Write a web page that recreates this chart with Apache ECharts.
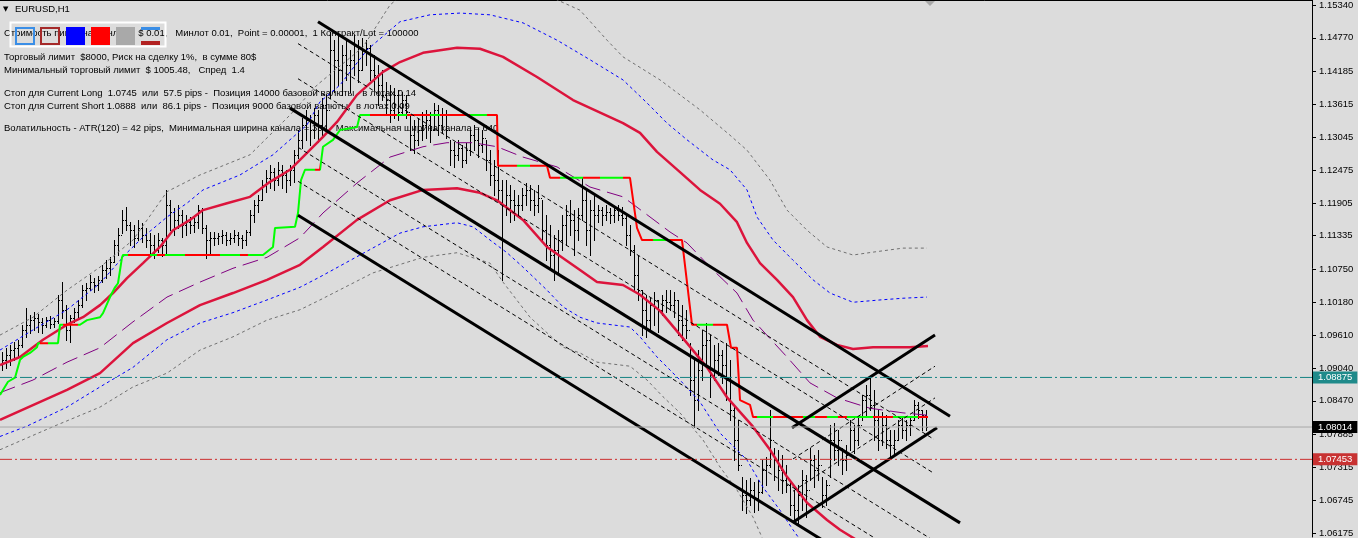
<!DOCTYPE html>
<html><head><meta charset="utf-8">
<script src="https://cdn.jsdelivr.net/npm/echarts@6/dist/echarts.min.js"></script>
<style>html,body{margin:0;padding:0;background:#dcdcdc;}#c{width:1358px;height:538px;}</style>
</head><body><div id="c"></div><script>
// ---------- DATA ----------
const yTicks = [1.15340,1.14770,1.14185,1.13615,1.13045,1.12475,1.11905,1.11335,1.10750,1.10180,1.09610,1.09040,1.08470,1.07885,1.07315,1.06745,1.06175];

const barHigh = [
1.0932,1.0939,1.0944,1.0949,1.0953,1.0979,1.1008,1.0996,1.1001,1.0998,
1.0991,1.0992,1.0994,1.0991,1.1031,1.1053,1.1013,1.0996,1.1008,1.1022,
1.1048,1.1051,1.1065,1.1060,1.1063,1.1083,1.1091,1.1096,1.1126,1.1147,
1.1178,1.1183,1.1157,1.1152,1.1161,1.1156,1.1147,1.1138,1.1135,1.1138,
1.1130,1.1213,1.1195,1.1181,1.1187,1.1178,1.1169,1.1166,1.1164,1.1187,
1.1181,1.1152,1.1140,1.1140,1.1138,1.1143,1.1140,1.1138,1.1143,1.1140,
1.1135,1.1143,1.1178,1.1195,1.1204,1.1230,1.1248,1.1256,1.1251,1.1262,
1.1256,1.1248,1.1256,1.1282,1.1317,1.1338,1.1352,1.1343,1.1355,1.1352,
1.1373,1.1378,1.1487,1.1473,1.1482,1.1465,1.1477,1.1456,1.1482,1.1473,
1.1477,1.1473,1.1465,1.1447,1.1430,1.1421,1.1401,1.1395,1.1390,1.1386,
1.1383,1.1378,1.1343,1.1334,1.1338,1.1348,1.1352,1.1348,1.1364,1.1360,
1.1355,1.1352,1.1300,1.1296,1.1300,1.1291,1.1294,1.1317,1.1326,1.1320,
1.1317,1.1300,1.1282,1.1265,1.1282,1.1230,1.1230,1.1222,1.1213,1.1204,
1.1216,1.1225,1.1222,1.1213,1.1222,1.1195,1.1169,1.1152,1.1135,1.1143,
1.1169,1.1187,1.1195,1.1178,1.1181,1.1234,1.1213,1.1195,1.1204,1.1187,
1.1183,1.1187,1.1181,1.1185,1.1187,1.1183,1.1169,1.1152,1.1117,1.1100,
1.1039,1.1031,1.1025,1.1036,1.1022,1.1031,1.1039,1.1039,1.1036,1.1022,
1.1013,1.1005,1.0947,1.0918,1.0935,1.0970,1.0982,1.0961,1.0944,1.0947,
1.0935,1.0947,1.0918,1.0836,1.0814,1.0715,1.0710,1.0713,1.0706,1.0710,
1.0744,1.0749,1.0831,1.0765,1.0762,1.0753,1.0736,1.0710,1.0692,1.0701,
1.0727,1.0718,1.0765,1.0753,1.0762,1.0715,1.0710,1.0805,1.0808,1.0796,
1.0765,1.0770,1.0814,1.0805,1.0817,1.0857,1.0874,1.0887,1.0866,1.0831,
1.0827,1.0822,1.0796,1.0796,1.0814,1.0819,1.0814,1.0817,1.0848,1.0845,1.0831,1.0831];

const barLow = [
1.0900,1.0904,1.0909,1.0918,1.0921,1.0940,1.0958,1.0965,1.0970,1.0966,
1.0965,1.0975,1.0973,1.0975,1.0982,1.0991,1.0953,1.0949,1.0984,1.0991,
1.1010,1.1022,1.1039,1.1036,1.1039,1.1053,1.1060,1.1065,1.1088,1.1100,
1.1138,1.1143,1.1117,1.1114,1.1126,1.1123,1.1114,1.1100,1.1095,1.1105,
1.1098,1.1104,1.1143,1.1135,1.1147,1.1131,1.1135,1.1138,1.1140,1.1147,
1.1138,1.1095,1.1100,1.1117,1.1119,1.1121,1.1117,1.1119,1.1123,1.1117,
1.1112,1.1117,1.1135,1.1157,1.1175,1.1195,1.1210,1.1216,1.1213,1.1222,
1.1216,1.1210,1.1222,1.1227,1.1268,1.1286,1.1300,1.1291,1.1303,1.1296,
1.1308,1.1317,1.1373,1.1383,1.1395,1.1378,1.1404,1.1383,1.1413,1.1401,
1.1421,1.1430,1.1404,1.1386,1.1360,1.1369,1.1343,1.1331,1.1338,1.1334,
1.1343,1.1338,1.1282,1.1277,1.1291,1.1300,1.1303,1.1296,1.1317,1.1308,
1.1312,1.1303,1.1256,1.1253,1.1265,1.1253,1.1260,1.1274,1.1282,1.1270,
1.1279,1.1248,1.1222,1.1204,1.1195,1.1057,1.1169,1.1157,1.1161,1.1169,
1.1178,1.1187,1.1178,1.1169,1.1175,1.1126,1.1091,1.1074,1.1057,1.1065,
1.1109,1.1117,1.1135,1.1100,1.1126,1.1161,1.1117,1.1100,1.1126,1.1157,
1.1152,1.1161,1.1155,1.1157,1.1161,1.1152,1.1117,1.1100,1.1039,1.1022,
1.0961,1.0958,1.0970,1.0979,1.0966,1.0996,1.1001,1.1005,1.0992,1.0961,
1.0953,1.0956,1.0857,1.0802,1.0831,1.0883,1.0909,1.0854,1.0883,1.0892,
1.0878,1.0848,1.0814,1.0744,1.0727,1.0657,1.0652,1.0666,1.0654,1.0657,
1.0687,1.0701,1.0732,1.0710,1.0692,1.0687,1.0689,1.0649,1.0640,1.0635,
1.0657,1.0645,1.0710,1.0697,1.0710,1.0663,1.0666,1.0715,1.0744,1.0736,
1.0720,1.0727,1.0762,1.0756,1.0770,1.0814,1.0822,1.0831,1.0779,1.0762,
1.0770,1.0765,1.0749,1.0753,1.0779,1.0782,1.0779,1.0788,1.0814,1.0817,1.0796,1.0796];

const barClose = [
1.0918,1.0927,1.0935,1.0939,1.0944,1.0970,1.0979,1.0987,1.0991,1.0984,
1.0979,1.0987,1.0980,1.0985,1.1022,1.1005,1.0970,1.0991,1.1001,1.1013,
1.1039,1.1043,1.1053,1.1048,1.1057,1.1074,1.1077,1.1088,1.1117,1.1135,
1.1161,1.1152,1.1143,1.1130,1.1147,1.1135,1.1126,1.1117,1.1109,1.1126,
1.1117,1.1187,1.1175,1.1161,1.1169,1.1152,1.1157,1.1152,1.1157,1.1178,
1.1147,1.1126,1.1130,1.1130,1.1133,1.1135,1.1126,1.1130,1.1135,1.1130,
1.1126,1.1140,1.1169,1.1187,1.1195,1.1222,1.1234,1.1244,1.1230,1.1248,
1.1239,1.1230,1.1248,1.1274,1.1300,1.1326,1.1334,1.1317,1.1343,1.1326,
1.1360,1.1352,1.1456,1.1439,1.1421,1.1447,1.1430,1.1439,1.1465,1.1421,
1.1456,1.1459,1.1421,1.1413,1.1395,1.1378,1.1369,1.1352,1.1378,1.1348,
1.1369,1.1348,1.1308,1.1300,1.1317,1.1326,1.1334,1.1317,1.1352,1.1326,
1.1343,1.1317,1.1282,1.1274,1.1286,1.1265,1.1282,1.1308,1.1300,1.1291,
1.1303,1.1265,1.1239,1.1230,1.1213,1.1187,1.1204,1.1195,1.1187,1.1187,
1.1204,1.1213,1.1195,1.1187,1.1199,1.1143,1.1117,1.1100,1.1109,1.1126,
1.1152,1.1169,1.1161,1.1143,1.1169,1.1195,1.1143,1.1178,1.1169,1.1178,
1.1169,1.1175,1.1169,1.1178,1.1169,1.1164,1.1135,1.1109,1.1065,1.1039,
1.1005,1.0987,1.1013,1.1022,1.1005,1.1022,1.1019,1.1013,1.1022,1.0987,
1.0979,1.0970,1.0883,1.0848,1.0900,1.0944,1.0953,1.0892,1.0918,1.0927,
1.0909,1.0883,1.0831,1.0779,1.0736,1.0684,1.0675,1.0692,1.0678,1.0689,
1.0727,1.0736,1.0779,1.0744,1.0727,1.0710,1.0701,1.0666,1.0657,1.0684,
1.0710,1.0692,1.0744,1.0727,1.0736,1.0684,1.0701,1.0779,1.0762,1.0779,
1.0744,1.0753,1.0796,1.0779,1.0805,1.0848,1.0857,1.0840,1.0814,1.0779,
1.0805,1.0779,1.0770,1.0779,1.0805,1.0796,1.0805,1.0814,1.0840,1.0831,1.0822,1.08014];

// indicator lines: [bar index, price]
const stopLine = [[-0.5,1.0857],[1.5,1.0880],[3.25,1.0887],[4.5,1.0918],[5.25,1.0923],[7,1.0930],[8.75,1.0940],[9,1.0947],[14,1.0947],[14.5,1.0979],[19.5,1.0979],[21.25,1.0987],[24.5,1.0992],[25.25,1.0999],[27,1.1027],[28.25,1.1044],[29,1.1051],[30,1.1096],[30.25,1.1100],[65.25,1.1100],[67.75,1.1114],[68.25,1.1147],[73.25,1.1149],[74,1.1173],[74.75,1.1230],[75.75,1.1248],[79.5,1.1248],[80.25,1.1288],[82.75,1.1300],[84.5,1.1317],[88.75,1.1322],[89.5,1.1343],[123.75,1.1343],[124,1.1255],[136.25,1.1255],[137,1.1234],[157,1.1234],[158.75,1.1147],[160,1.1126],[170,1.1126],[172.5,1.0979],[181.25,1.0979],[182.25,1.0939],[183.75,1.0939],[184.5,1.0848],[187,1.0840],[187.75,1.0819],[231.5,1.0819]];
const stopShortRanges = [[9.5,11.5],[15.25,19],[31.5,37],[38.75,40.75],[45.75,54.5],[59.5,61.5],[78.25,79.5],[92,98.75],[101.25,107],[109.5,117],[121.25,128.75],[132,139.5],[145.25,149.5],[155.25,162.75],[167,173.75],[177.75,188.75],[192.75,200.25],[203.25,206.25],[209,211.25],[217.75,222.75],[229,231.5]];

const maUpper = [[-0.5,1.0909],[4.5,1.0923],[10.25,1.0953],[16.25,1.0979],[20.25,1.0992],[24.5,1.1013],[27.75,1.1034],[31.25,1.1060],[35.25,1.1086],[39.5,1.1114],[42.75,1.1143],[47,1.1161],[50.25,1.1178],[56.25,1.1190],[62,1.1201],[67,1.1227],[72,1.1248],[80.25,1.1305],[83.75,1.1331],[88.75,1.1378],[95.25,1.1418],[99.5,1.1435],[105.25,1.1451],[113.75,1.1460],[119.5,1.1458],[125.25,1.1444],[133.75,1.1409],[142.75,1.1369],[155.25,1.1329],[159.5,1.1312],[163.75,1.1279],[169.5,1.1244],[174.5,1.1213],[179.5,1.1189],[183.75,1.1157],[186.25,1.1121],[189.5,1.1086],[193.75,1.1057],[197.75,1.1027],[201.25,1.0987],[204.5,1.0958],[208.75,1.0944],[212.75,1.0937],[217.75,1.0940],[227,1.0940],[231.5,1.0942]];
const maLower = [[-0.5,1.0814],[16.25,1.0866],[24.5,1.0895],[32.75,1.0947],[41.25,1.0982],[49.5,1.1013],[57.75,1.1034],[66.25,1.1057],[74.5,1.1083],[80.25,1.1114],[88.75,1.1161],[97,1.1195],[105.25,1.1213],[113.75,1.1216],[119.5,1.1208],[123.75,1.1195],[130.25,1.1161],[136.25,1.1114],[144.5,1.1074],[148.75,1.1053],[155.25,1.1048],[159.5,1.1031],[164.5,1.1003],[171.25,1.0947],[176.25,1.0905],[181.25,1.0853],[187.75,1.0802],[192,1.0762],[196.25,1.0715],[201.25,1.0670],[206.25,1.0640],[209.5,1.0623],[213.5,1.0606]];
const midLine = [[-0.5,1.0861],[7.75,1.0883],[16.25,1.0914],[24.5,1.0939],[32.75,1.0984],[41.25,1.1027],[49.5,1.1053],[57.75,1.1077],[66.25,1.1096],[74.5,1.1130],[80.25,1.1173],[88.75,1.1225],[97,1.1270],[105.25,1.1288],[111.25,1.1295],[117.75,1.1295],[123.75,1.1288],[130.25,1.1270],[138.75,1.1253],[147,1.1218],[155.25,1.1201],[158.75,1.1183],[167,1.1140],[171.25,1.1121],[177.75,1.1074],[183.75,1.1034],[187.75,1.0987],[196.25,1.0923],[202,1.0878],[208.75,1.0852],[217,1.0834],[225.25,1.0826],[231.25,1.0822]];
const blueUp = [[-0.5,1.0935],[7.75,1.0970],[16.25,1.1005],[24.5,1.1051],[31.25,1.1104],[35.25,1.1131],[41.25,1.1166],[46.25,1.1190],[50.25,1.1213],[59.5,1.1239],[67.75,1.1274],[76.25,1.1326],[79.5,1.1366],[84.5,1.1395],[91.25,1.1456],[99.5,1.1505],[107,1.1517],[114.5,1.1520],[122,1.1517],[130.25,1.1503],[138.75,1.1473],[147,1.1439],[155.25,1.1404],[161.25,1.1364],[166.25,1.1329],[171.25,1.1300],[177.75,1.1265],[182,1.1248],[186.25,1.1213],[188.75,1.1166],[192.75,1.1126],[197.75,1.1091],[202.75,1.1057],[207,1.1034],[212.75,1.1018],[219.5,1.1022],[225.25,1.1025],[231.25,1.1027]];
const blueDn = [[-0.5,1.0785],[6.25,1.0803],[16.25,1.0836],[24.5,1.0871],[32.75,1.0905],[41.25,1.0953],[49.5,1.0982],[57.75,1.1000],[66.25,1.1022],[74.5,1.1044],[79.5,1.1062],[89.5,1.1100],[99.5,1.1138],[105.25,1.1149],[113.75,1.1156],[117.75,1.1149],[122,1.1126],[126.25,1.1104],[130.25,1.1079],[136.25,1.1039],[140.25,1.1010],[144.5,1.0992],[148.75,1.0982],[157,1.0975],[159.5,1.0958],[163.75,1.0923],[169.5,1.0883],[174.5,1.0845],[179.5,1.0791],[186.25,1.0744],[190.25,1.0697],[194.5,1.0657],[197.75,1.0623],[199.5,1.0606]];
const greyUp = [[-0.5,1.0961],[7.75,1.0992],[16.25,1.1039],[24.5,1.1079],[32.75,1.1126],[41.25,1.1210],[49.5,1.1239],[62,1.1274],[72,1.1343],[78.75,1.1395],[90.25,1.1461],[97,1.1534],[104.5,1.1578],[117,1.1595],[129.5,1.1578],[138.75,1.1543],[144.5,1.1525],[151.25,1.1473],[155.25,1.1444],[164.5,1.1404],[174.5,1.1352],[182,1.1308],[186.25,1.1282],[192,1.1230],[196.25,1.1178],[201.25,1.1143],[206.25,1.1114],[212.75,1.1100],[217.75,1.1105],[225.25,1.1112],[231.25,1.1112]];
const greyDn = [[-0.5,1.0762],[12.75,1.0802],[24.5,1.0836],[32.75,1.0871],[41.25,1.0895],[49.5,1.0935],[57.75,1.0958],[66.25,1.0987],[74.5,1.1005],[79.5,1.1022],[92.75,1.1069],[105.25,1.1096],[113.75,1.1104],[122,1.1086],[125.25,1.1053],[132,1.0992],[136.25,1.0965],[140.25,1.0940],[144.5,1.0930],[148.75,1.0914],[157,1.0907],[161.25,1.0883],[165.25,1.0854],[169.5,1.0826],[175.25,1.0779],[179.5,1.0732],[183.75,1.0692],[187.75,1.0645],[190.25,1.0606]];

// channel objects
const descUpper  = [[79,1.1505],[237,1.0820]];
const descMiddle = [[72,1.1355],[239.5,1.0635]];
const descLower  = [[74,1.1169],[207,1.0597]];
const descLevels = [ [[74,1.1467],[233,1.0780]], [[74,1.1406],[233,1.0721]], [[74,1.1287],[233,1.0604]], [[74,1.1228],[233,1.0545]] ];
const ascLower   = [[197.75,1.0636],[233.75,1.0800]];
const ascUpper   = [[197.5,1.0800],[233.25,1.0961]];
const ascLevels  = [ [[197.75,1.0746],[233.25,1.0907]], [[197.75,1.0690],[233.25,1.0852]] ];

const priceLevels = [1.08875, 1.08014, 1.07453];

const infoLines = [
 'Стоимость пипса на минлоте  $ 0.01,   Минлот 0.01,  Point = 0.00001,  1 Контракт/Lot = 100000',
 'Торговый лимит  $8000, Риск на сделку 1%,  в сумме 80$',
 'Минимальный торговый лимит  $ 1005.48,   Спред  1.4',
 'Стоп для Current Long  1.0745  или  57.5 pips -  Позиция 14000 базовой валюты,  в лотах 0.14',
 'Стоп для Current Short 1.0888  или  86.1 pips -  Позиция 9000 базовой валюты,  в лотах 0.09',
 'Волатильность - ATR(120) = 42 pips,  Минимальная ширина канала = 354,  Максимальная ширина канала = 640'
];
const chartTitle = 'EURUSD,H1';

// ---------- CHART ----------
const FONT = '"Liberation Sans", Arial, sans-serif';
const X_MIN = -0.5, X_MAX = 327.5;
const chart = echarts.init(document.getElementById('c'));

const barData = barHigh.map((h, i) => [i, h, barLow[i], i > 0 ? barClose[i-1] : null, barClose[i]]);

function renderBar(params, api) {
  const i = api.value(0);
  const ph = api.coord([i, api.value(1)]);
  const pl = api.coord([i, api.value(2)]);
  const pc = api.coord([i, api.value(4)]);
  const x = Math.round(ph[0] - 0.5);
  const yh = Math.round(ph[1]);
  const yl = Math.round(pl[1]);
  const kids = [
    {type:'rect', shape:{x:x, y:yh, width:1, height:Math.max(1, yl - yh + 1)}, style:{fill:'#000'}},
    {type:'rect', shape:{x:x+1, y:Math.round(pc[1]), width:1, height:1}, style:{fill:'#000'}}
  ];
  const ov = api.value(3);
  if (ov !== null && !isNaN(ov)) {
    const po = api.coord([i, ov]);
    kids.push({type:'rect', shape:{x:x-1, y:Math.round(po[1]), width:1, height:1}, style:{fill:'#000'}});
  }
  return {type:'group', children:kids};
}

function lineS(data, color, width, type, z) {
  const ls = {width:width, type:type};
  if (color) ls.color = color;
  return {type:'line', data:data, symbol:'none', showSymbol:false, silent:true, z:z, lineStyle:ls, clip:true};
}

const levelLineColors = ['#138282', '#a8a8a8', '#cc2e2e'];
const levelTagColors  = ['#1f8a8a', '#000000', '#c83232'];
const levelDash = [[12,3,2,3], 'solid', [12,3,2,3]];

const series = [];
series.push({type:'custom', renderItem:renderBar, data:barData, encode:{x:0, y:[1,2]}, z:2, silent:true, clip:true});
series.push(lineS(greyUp, '#707070', 1, [3,3], 3));
series.push(lineS(greyDn, '#707070', 1, [3,3], 3));
series.push(lineS(blueUp, '#0000ff', 1, [3,3], 3));
series.push(lineS(blueDn, '#0000ff', 1, [3,3], 3));
series.push(lineS(midLine, '#800080', 1, [16,7], 3));
series.push(lineS(maUpper, '#dc143c', 2.5, 'solid', 4));
series.push(lineS(maLower, '#dc143c', 2.5, 'solid', 4));
const STOP_IDX = series.length;
series.push(lineS(stopLine, null, 2, 'solid', 5));
[descUpper, descMiddle, descLower, ascLower, ascUpper].forEach(d => series.push(lineS(d, '#000', 3, 'solid', 6)));
descLevels.concat(ascLevels).forEach(d => series.push(lineS(d, '#000', 1, [4,3], 6)));
priceLevels.forEach((v, k) => {
  const s = lineS([[X_MIN, v], [X_MAX, v]], levelLineColors[k], 1, levelDash[k], 7);
  s.endLabel = {show:true, formatter:v.toFixed(5), backgroundColor:levelTagColors[k], color:'#fff',
    fontSize:9.5, fontFamily:FONT, padding:[1,5,1,5], distance:1};
  series.push(s);
});

const TXT_FONT = '9.5px ' + FONT;
const graphic = [
  {type:'text', x:3, y:9, z:0, style:{text:'▼', font:'7px "DejaVu Sans"', fill:'#000', verticalAlign:'middle'}},
  {type:'text', x:15, y:9, z:0, style:{text:chartTitle, font:TXT_FONT, fill:'#000', verticalAlign:'middle'}}
];
const infoY = [33, 57.5, 70, 93, 106, 128.5];
infoLines.forEach((t, k) => graphic.push({type:'text', x:4, y:infoY[k], z:0,
  style:{text:t, font:TXT_FONT, fill:'#000', verticalAlign:'middle'}}));
graphic.push(
  {type:'rect', z:1, shape:{x:10.5, y:22.5, width:155, height:24}, style:{fill:'none', stroke:'#ffffff', lineWidth:2}},
  {type:'rect', z:1, shape:{x:16, y:28, width:18, height:16}, style:{fill:'none', stroke:'#3a8ee6', lineWidth:2}},
  {type:'rect', z:1, shape:{x:41, y:28, width:18, height:16}, style:{fill:'none', stroke:'#a52a2a', lineWidth:2}},
  {type:'rect', z:1, shape:{x:66, y:27, width:19, height:18}, style:{fill:'#0000ff'}},
  {type:'rect', z:1, shape:{x:91, y:27, width:19, height:18}, style:{fill:'#ff0000'}},
  {type:'rect', z:1, shape:{x:116, y:27, width:19, height:18}, style:{fill:'#a9a9a9'}},
  {type:'rect', z:1, shape:{x:141, y:27, width:19, height:3}, style:{fill:'#3a8ee6'}},
  {type:'rect', z:1, shape:{x:141, y:41, width:19, height:4}, style:{fill:'#b22222'}},
  {type:'polygon', z:1, shape:{points:[[925,1],[935,1],[930,6]]}, style:{fill:'#a8a8a8'}}
);

chart.setOption({
  animation:false,
  backgroundColor:'#dcdcdc',
  grid:{left:0, right:46, top:0, bottom:1, show:false},
  xAxis:{type:'value', min:X_MIN, max:X_MAX, position:'top',
    axisLine:{show:true, onZero:false, lineStyle:{color:'#000', width:1}},
    axisTick:{show:false}, axisLabel:{show:false}, splitLine:{show:false}},
  yAxis:{type:'value', position:'right', min:1.06105, max:1.15427,
    axisLine:{show:true, onZero:false, lineStyle:{color:'#000', width:1}},
    axisTick:{show:true, length:4, customValues:yTicks, lineStyle:{color:'#000'}},
    axisLabel:{customValues:yTicks, formatter:v => v.toFixed(5), color:'#000', fontSize:9.5, fontFamily:FONT, margin:7},
    splitLine:{show:false}},
  visualMap:{type:'piecewise', show:false, dimension:0, seriesIndex:STOP_IDX,
    pieces: stopShortRanges.map(r => ({gte:r[0], lte:r[1], color:'#ff0000'})),
    outOfRange:{color:'#00ff00'}},
  graphic: graphic,
  series: series
});
</script></body></html>
